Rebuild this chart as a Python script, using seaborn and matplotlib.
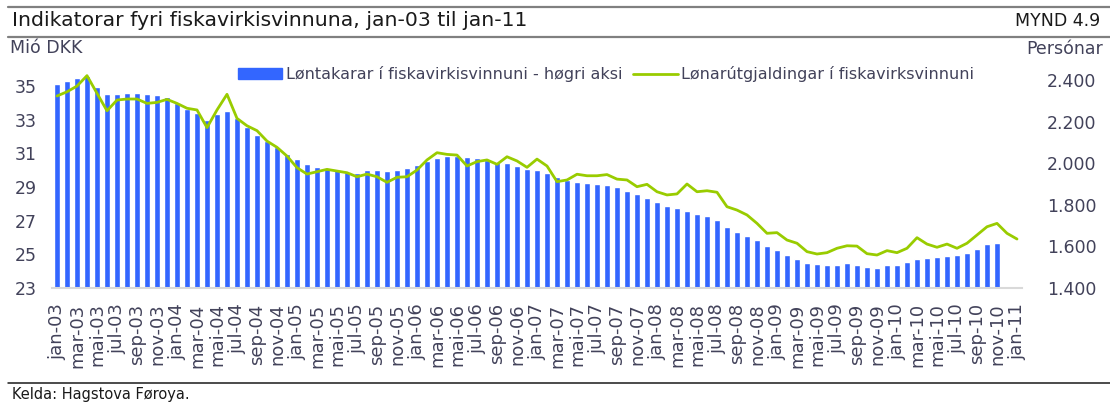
import numpy as np
import pandas as pd
import matplotlib.pyplot as plt
import seaborn as sns
from matplotlib.patches import Patch
from matplotlib.lines import Line2D

# -----------------------------
# Data
# -----------------------------
month_names = ["jan", "feb", "mar", "apr", "mai", "jun",
               "jul", "aug", "sep", "okt", "nov", "des"]
years = ["03", "04", "05", "06", "07", "08", "09", "10", "11"]
months = [f"{m}-{y}" for y in years for m in month_names][:97]

# Løntakarar í fiskavirkisvinnuni (persónar, right axis), jan-03 .. nov-10
lontakarar = [
    2381, 2395, 2410, 2420, 2368, 2333, 2333, 2338, 2338, 2333, 2328, 2318,
    2291, 2259, 2243, 2208, 2237, 2251, 2216, 2173, 2135, 2107, 2079, 2044,
    2020, 1996, 1983, 1972, 1967, 1956, 1951, 1967, 1967, 1962, 1967, 1977,
    1991, 2011, 2025, 2036, 2034, 2030, 2023, 2015, 2006, 1999, 1987, 1972,
    1967, 1951, 1932, 1919, 1908, 1903, 1900, 1894, 1886, 1866, 1852, 1833,
    1813, 1794, 1785, 1770, 1756, 1746, 1727, 1693, 1669, 1650, 1631, 1602,
    1583, 1559, 1539, 1522, 1515, 1510, 1510, 1520, 1510, 1500, 1495, 1510,
    1510, 1525, 1539, 1544, 1549, 1554, 1559, 1568, 1587, 1612, 1616,
]

# Lønarútgjaldingar í fiskavirksvinnuni (mió DKK, left axis), jan-03 .. jan-11
lonarutgjaldingar = [
    34.41, 34.66, 35.00, 35.62, 34.57, 33.53, 34.17, 34.23, 34.23, 33.97, 34.03, 34.21,
    33.97, 33.68, 33.58, 32.53, 33.58, 34.51, 33.08, 32.64, 32.35, 31.73, 31.36, 30.84,
    30.15, 29.77, 29.91, 30.05, 29.95, 29.85, 29.61, 29.77, 29.61, 29.28, 29.58, 29.61,
    30.01, 30.61, 31.04, 30.94, 30.90, 30.25, 30.51, 30.61, 30.35, 30.80, 30.55, 30.17,
    30.66, 30.25, 29.32, 29.42, 29.76, 29.67, 29.67, 29.74, 29.47, 29.42, 29.02, 29.16,
    28.72, 28.53, 28.59, 29.18, 28.72, 28.78, 28.69, 27.83, 27.63, 27.34, 26.84, 26.25,
    26.29, 25.85, 25.66, 25.16, 25.02, 25.10, 25.36, 25.51, 25.49, 25.04, 24.96, 25.22,
    25.10, 25.36, 25.99, 25.61, 25.42, 25.61, 25.36, 25.66, 26.15, 26.64, 26.84, 26.25,
    25.91,
]

left_ticks = [23, 25, 27, 29, 31, 33, 35]
right_ticks = [1400, 1600, 1800, 2000, 2200, 2400]

bar_label = "Løntakarar í fiskavirkisvinnuni - høgri aksi"
line_label = "Lønarútgjaldingar í fiskavirksvinnuni"

BAR_COLOR = "#3366FF"
LINE_COLOR = "#99CC00"
TEXT_COLOR = "#42425A"


def main():
    sns.set_style("white")
    plt.rcParams["font.family"] = ["DejaVu Sans"]

    df = pd.DataFrame({
        "month": months,
        "lontakarar": lontakarar + [np.nan] * (len(months) - len(lontakarar)),
        "lon": lonarutgjaldingar,
        "pos": np.arange(len(months)),
    })

    W, H = 1110, 403
    fig = plt.figure(figsize=(W / 100, H / 100), dpi=100)
    ax_bar = fig.add_axes([52 / W, 1 - 288 / H, (1022 - 52) / W, (288 - 62) / H])

    # bars on the right-hand (persónar) axis
    sns.barplot(data=df, x="month", y="lontakarar", order=months, color=BAR_COLOR,
                saturation=1, width=0.55, errorbar=None, ax=ax_bar)

    # line on the left-hand (mió DKK) axis, drawn on top
    ax_line = ax_bar.twinx()
    sns.lineplot(data=df, x="pos", y="lon", color=LINE_COLOR, linewidth=2.0, ax=ax_line)

    ax_bar.yaxis.tick_right()
    ax_line.yaxis.tick_left()

    ax_bar.set_xlim(-0.5, len(months) - 0.5)
    ax_bar.set_ylim(1400, 2487)
    ax_line.set_ylim(23, 36.43)

    ax_bar.set_yticks(right_ticks)
    ax_bar.set_yticklabels([f"{v:,.0f}".replace(",", ".") for v in right_ticks])
    ax_line.set_yticks(left_ticks)

    ax_bar.set_xticks(range(0, len(months), 2))
    ax_bar.set_xticklabels(months[::2], rotation=90)
    ax_bar.set_xticks(np.arange(-0.5, len(months), 2), minor=True)

    ax_bar.tick_params(axis="x", which="major", length=0, pad=11, labelsize=13,
                       labelcolor=TEXT_COLOR)
    ax_bar.tick_params(axis="x", which="minor", direction="in", length=5,
                       color="#D9D9D9", width=1)
    ax_bar.tick_params(axis="y", length=0, pad=18, labelsize=12.5, labelcolor=TEXT_COLOR)
    ax_line.tick_params(axis="y", length=0, pad=11, labelsize=12.5, labelcolor=TEXT_COLOR)

    for ax in (ax_bar, ax_line):
        ax.set_xlabel("")
        ax.set_ylabel("")
        for side in ("top", "left", "right"):
            ax.spines[side].set_visible(False)
    ax_line.spines["bottom"].set_visible(False)
    ax_bar.spines["bottom"].set_color("#D9D9D9")
    ax_bar.spines["bottom"].set_linewidth(1.5)

    handles = [Patch(color=BAR_COLOR), Line2D([0], [0], color=LINE_COLOR, lw=2)]
    leg = ax_line.legend(handles, [bar_label, line_label], loc="center",
                         bbox_to_anchor=(0.571, 0.945), ncol=2, frameon=False,
                         fontsize=11.5, handlelength=2.8, handleheight=0.7,
                         handletextpad=0.2, columnspacing=0.7)
    for t in leg.get_texts():
        t.set_color(TEXT_COLOR)

    # -----------------------------
    # Header / footer decorations
    # -----------------------------
    fig.add_artist(Line2D([8 / W, 1], [1 - 6.5 / H] * 2, color="#808080", lw=1.6))
    fig.add_artist(Line2D([8 / W, 1], [1 - 37 / H] * 2, color="#808080", lw=1.6))
    fig.add_artist(Line2D([8 / W, 1], [1 - 383 / H] * 2, color="#1a1a1a", lw=1.1))

    fig.text(12 / W, 1 - 21 / H, "Indikatorar fyri fiskavirkisvinnuna, jan-03 til jan-11",
             fontsize=14.7, color="#1a1a1a", va="center", ha="left")
    fig.text(1100 / W, 1 - 21 / H, "MYND 4.9", fontsize=12.5, color="#1a1a1a",
             va="center", ha="right")
    fig.text(10 / W, 1 - 48 / H, "Mió DKK", fontsize=12.5, color=TEXT_COLOR,
             va="center", ha="left")
    fig.text(1103 / W, 1 - 49 / H, "Persónar", fontsize=12.5, color=TEXT_COLOR,
             va="center", ha="right")
    fig.text(12 / W, 1 - 395 / H, "Kelda: Hagstova Føroya.", fontsize=10.5,
             color="#1a1a1a", va="center", ha="left")

    fig.savefig("out.png", dpi=100)


if __name__ == "__main__":
    main()
